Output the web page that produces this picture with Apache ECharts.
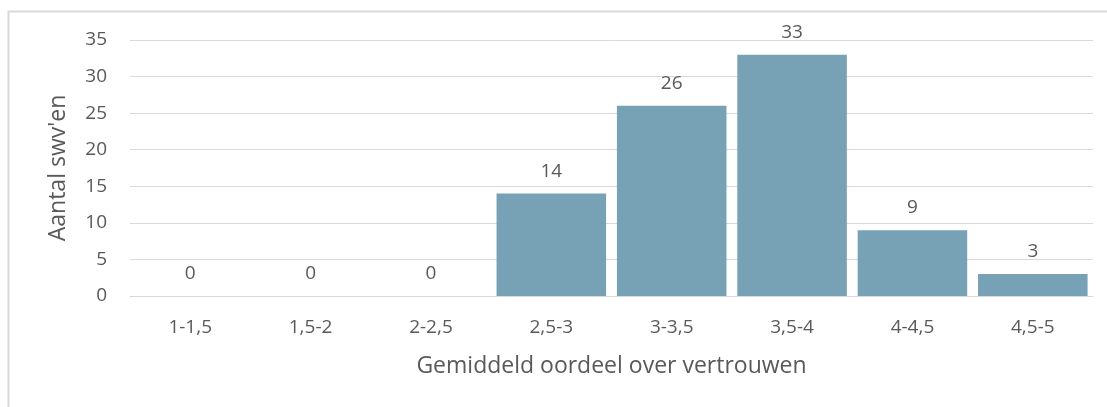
<!DOCTYPE html>
<html>
  <head>
      <meta charset="utf-8">
      <script src="https://cdn.jsdelivr.net/npm/echarts@6/dist/echarts.min.js"></script>
      <style>
        html, body { margin: 0; padding: 0; background: #fff; }
      </style>
  </head>
  <body>
    <div id="main" style="width: 1107px;height:407px;"></div>
    <script type="text/javascript">
        // categories and counts
        var categories = ['1-1,5', '1,5-2', '2-2,5', '2,5-3', '3-3,5', '3,5-4', '4-4,5', '4,5-5'];
        var counts = [0, 0, 0, 14, 26, 33, 9, 3];
        var yTicks = [0, 5, 10, 15, 20, 25, 30, 35];

        var textColor = '#595959';
        var fontFamily = 'Open Sans';

        var myChart = echarts.init(document.getElementById('main'));

        var option = {
            backgroundColor: '#fff',
            animation: false,
            textStyle: { fontFamily: fontFamily },
            graphic: [{
                type: 'rect',
                shape: { x: 8.5, y: 11.5, width: 1200, height: 600 },
                style: { fill: 'none', stroke: '#d9d9d9', lineWidth: 2 },
                silent: true
            }],
            grid: {
                left: 130,
                right: 14,
                top: 40,
                bottom: 111
            },
            xAxis: {
                type: 'category',
                data: categories,
                name: 'Gemiddeld oordeel over vertrouwen',
                nameLocation: 'middle',
                nameGap: 59,
                nameTextStyle: { color: textColor, fontSize: 23, fontFamily: fontFamily },
                axisLine: { show: true, lineStyle: { color: '#d9d9d9', width: 1 } },
                axisTick: { show: false },
                axisLabel: { color: textColor, fontSize: 19, margin: 22, fontFamily: fontFamily }
            },
            yAxis: {
                type: 'value',
                min: yTicks[0],
                max: yTicks[yTicks.length - 1],
                interval: 5,
                name: "Aantal swv'en",
                nameLocation: 'middle',
                nameGap: 60,
                nameTextStyle: { color: textColor, fontSize: 23, fontFamily: fontFamily },
                axisLine: { show: false },
                axisTick: { show: false },
                splitLine: { lineStyle: { color: '#d9d9d9', width: 1 } },
                axisLabel: { color: textColor, fontSize: 19, margin: 23, fontFamily: fontFamily }
            },
            series: [{
                type: 'bar',
                data: counts,
                barCategoryGap: '9%',
                itemStyle: {
                    color: '#77a2b5'
                },
                label: {
                    show: true,
                    position: 'top',
                    distance: 13,
                    color: textColor,
                    fontSize: 19,
                    fontFamily: fontFamily
                }
            }]
        };
        myChart.setOption(option);
    </script>
  </body>
</html>
